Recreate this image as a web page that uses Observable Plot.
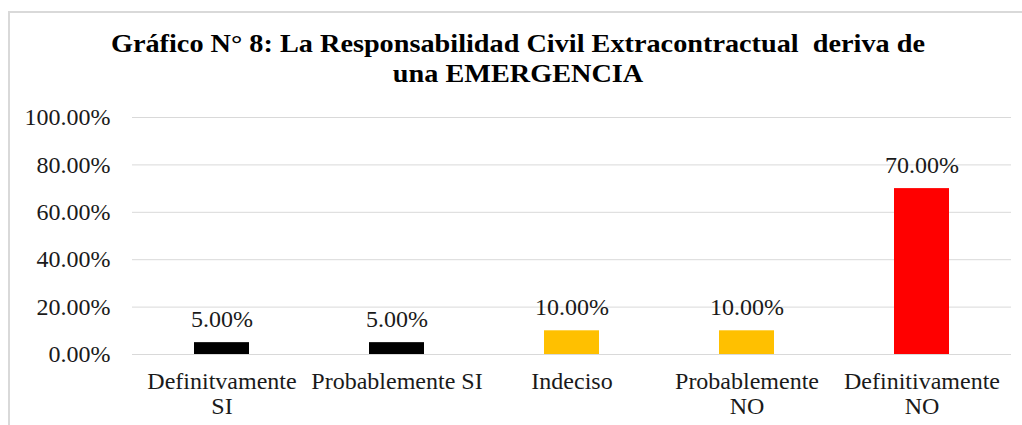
<!DOCTYPE html>
<html>
<head>
<meta charset="utf-8">
<script src="https://cdn.jsdelivr.net/npm/d3@7"></script>
<script src="https://cdn.jsdelivr.net/npm/@observablehq/plot@0.6"></script>
<style>
  html, body { margin: 0; padding: 0; background: #fff; }
  body { width: 1022px; height: 425px; position: relative; overflow: hidden; font-family: "Times New Roman", "Liberation Serif", Tinos, "DejaVu Serif", serif; }
  #frame { position: absolute; left: 8px; top: 11px; width: 1030px; height: 430px; border: 2px solid #d9d9d9; box-sizing: border-box; }
  #title { position: absolute; left: 0; width: 1036px; top: 29px; text-align: center; font-weight: bold; font-size: 25px; line-height: 30px; color: #000; white-space: pre; transform: scaleX(1.13); transform-origin: 518px 0; }
  #chart { position: absolute; left: 0; top: 95px; }
</style>
</head>
<body>
<div id="frame"></div>
<div id="title">Gráfico N° 8: La Responsabilidad Civil Extracontractual  deriva de
una EMERGENCIA</div>
<div id="chart"></div>
<script>
const categories = ["Definitvamente\nSI", "Probablemente SI", "Indeciso", "Probablemente\nNO", "Definitivamente\nNO"];
const values = [5, 5, 10, 10, 70];
const colors = ["#000000", "#000000", "#FFC000", "#FFC000", "#FF0000"];
const yTicks = [0, 20, 40, 60, 80, 100];

const data = categories.map((c, i) => ({category: c, value: values[i], color: colors[i]}));
const fmt = d => d.toFixed(2) + "%";
const serif = "\"Times New Roman\", \"Liberation Serif\", Tinos, \"DejaVu Serif\", serif";

const chart = Plot.plot({
  width: 1022,
  height: 330,
  marginTop: 22,
  marginBottom: 71,
  marginLeft: 132,
  marginRight: 11,
  style: {fontFamily: serif, fontSize: "24px", color: "#1a1a1a", background: "transparent"},
  x: {domain: categories, paddingInner: 0.6875, paddingOuter: 0.344, label: null},
  y: {domain: [0, 100], label: null},
  color: {type: "identity"},
  marks: [
    Plot.gridY(yTicks, {stroke: "#d9d9d9", strokeOpacity: 1, strokeWidth: 1}),
    Plot.axisY(yTicks, {tickSize: 0, tickPadding: 22, tickFormat: fmt, fontSize: 24, fontFamily: serif, label: null}),
    Plot.axisX({tickSize: 0, tickPadding: 16, fontSize: 24, fontFamily: serif, lineHeight: 1.07, label: null}),
    Plot.barY(data, {x: "category", y: "value", fill: "color"}),
    Plot.text(data, {x: "category", y: "value", text: d => fmt(d.value), dy: -23, fontSize: 24, fontFamily: serif, fill: "#1a1a1a"})
  ]
});
document.getElementById("chart").appendChild(chart);
</script>
</body>
</html>
